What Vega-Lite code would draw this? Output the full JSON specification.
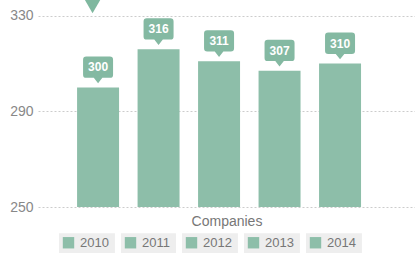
{
  "$schema": "https://vega.github.io/schema/vega-lite/v6.json",
  "width": 377,
  "height": 207,
  "autosize": {"type": "none"},
  "padding": {"left": 38, "top": 0, "right": 0, "bottom": 46},
  "background": "#ffffff",
  "config": {
    "view": {"stroke": null},
    "font": "Liberation Sans"
  },
  "data": {
    "values": [
      {"year": "2010", "value": 300},
      {"year": "2011", "value": 316},
      {"year": "2012", "value": 311},
      {"year": "2013", "value": 307},
      {"year": "2014", "value": 310}
    ]
  },
  "encoding": {
    "x": {
      "field": "year",
      "type": "nominal",
      "scale": {"paddingInner": 0.306, "paddingOuter": 0.769, "align": 0.42},
      "axis": {
        "title": "Companies",
        "labels": false,
        "ticks": false,
        "domain": false,
        "titleFontSize": 14,
        "titleFontWeight": "normal",
        "titleColor": "#777777",
        "titlePadding": 7
      }
    },
    "y": {
      "field": "value",
      "type": "quantitative",
      "scale": {"domain": [250, 336.6], "nice": false, "zero": false},
      "axis": {
        "title": null,
        "values": [250, 290, 330],
        "ticks": false,
        "domain": false,
        "labelFontSize": 14,
        "labelColor": "#888888",
        "labelPadding": 5,
        "gridColor": "#cccccc",
        "gridDash": [2, 2],
        "gridWidth": 1
      }
    }
  },
  "layer": [
    {
      "mark": {"type": "bar", "clip": true},
      "encoding": {
        "color": {
          "field": "year",
          "type": "nominal",
          "scale": {"range": ["#8dbea9", "#8dbea9", "#8dbea9", "#8dbea9", "#8dbea9"]},
          "legend": {
            "title": null,
            "orient": "none",
            "direction": "horizontal",
            "legendX": 24,
            "legendY": 236,
            "symbolType": "square",
            "symbolSize": 130,
            "symbolStrokeWidth": 0,
            "labelFontSize": 13,
            "labelColor": "#777777",
            "labelOffset": 5,
            "columnPadding": 9,
            "encode": {
              "entries": {
                "update": {
                  "fill": {"value": "#eeeeee"},
                  "stroke": {"value": "#eeeeee"},
                  "strokeWidth": {"value": 6},
                  "width": {"value": 50}
                }
              }
            }
          }
        }
      }
    },
    {
      "mark": {
        "type": "point",
        "shape": "M-0.786,-2.07 L0.786,-2.07 Q1,-2.07 1,-1.857 L1,-0.857 Q1,-0.643 0.786,-0.643 L0.286,-0.643 L0,-0.286 L-0.286,-0.643 L-0.786,-0.643 Q-1,-0.643 -1,-0.857 L-1,-1.857 Q-1,-2.07 -0.786,-2.07 Z",
        "filled": true,
        "size": 900,
        "opacity": 1,
        "color": "#84b9a2",
        "strokeWidth": 0
      }
    },
    {
      "mark": {
        "type": "text",
        "dy": -20,
        "baseline": "middle",
        "align": "center",
        "color": "#ffffff",
        "fontSize": 12,
        "fontWeight": "bold"
      },
      "encoding": {"text": {"field": "value", "type": "quantitative"}}
    },
    {
      "data": {"values": [{"year": "2010", "value": 334.5}]},
      "mark": {
        "type": "point",
        "shape": "triangle-down",
        "filled": true,
        "size": 361,
        "opacity": 1,
        "color": "#7fb89f",
        "xOffset": -5.5
      }
    }
  ]
}
